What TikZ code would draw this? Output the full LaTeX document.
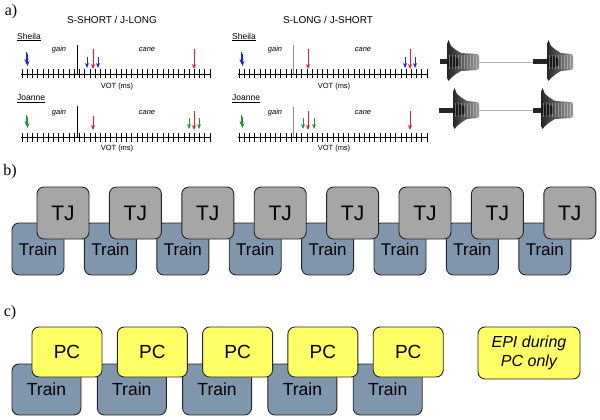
\documentclass[tikz,border=0pt]{standalone}
\usepackage{fontspec}
\setmainfont{Liberation Serif}
\setsansfont{Liberation Sans}
\usetikzlibrary{arrows.meta}
\definecolor{trainc}{RGB}{127,150,173}
\definecolor{tjc}{RGB}{166,166,166}
\definecolor{pcc}{RGB}{255,255,102}
\definecolor{arrblue}{RGB}{30,40,200}
\definecolor{arrred}{RGB}{225,30,40}
\definecolor{arrgreen}{RGB}{40,140,60}
\tikzset{
  plabel/.style={font=\rmfamily\fontsize{16}{16}\selectfont, inner sep=0pt},
  ttl/.style={font=\sffamily\fontsize{10}{12}\selectfont, inner sep=0pt},
  spk/.style={font=\sffamily\fontsize{8.5}{10}\selectfont, inner sep=0pt, anchor=west},
  wrd/.style={font=\sffamily\itshape\fontsize{7.5}{9}\selectfont, inner sep=0pt},
  votl/.style={font=\sffamily\fontsize{7.5}{9}\selectfont, inner sep=0pt},
  axisline/.style={line width=0.6pt, black},
  arr/.style={-{Stealth[length=5pt,width=4pt]}, line width=1pt},
  box/.style={draw=black!85, line width=0.9pt, rounded corners=7pt, inner sep=0pt},
  trainb/.style={box, fill=trainc, minimum width=52pt, minimum height=52pt, font=\sffamily\fontsize{17}{17}\selectfont},
  tjb/.style={box, fill=tjc, minimum width=52pt, minimum height=52pt, font=\sffamily\fontsize{21}{21}\selectfont},
  trainbig/.style={box, fill=trainc, minimum width=69pt, minimum height=51pt, font=\sffamily\fontsize{17.5}{17.5}\selectfont},
  pcb/.style={box, fill=pcc, minimum width=70pt, minimum height=50pt, font=\sffamily\fontsize{19}{19}\selectfont},
}
\newcommand\votaxis[2]{%
  \draw[axisline] ({#1-1},#2) -- ({#1+189},#2);
  \foreach \i in {0,...,36}{\draw[axisline] ({#1+\i*5.22},{#2-4.5}) -- ({#1+\i*5.22},{#2+4.5});}
}
\newcommand\myarr[4]{\draw[arr,#1] (#2,#3) -- (#2,#4);}
\newcommand\wavef[4]{%
  \fill[black!85] (#1,{#4-2.5}) rectangle (#2,{#4+2.5});
  \shade[left color=black!85,right color=black!40]
   (#2,{#4+3}) -- (#2,{#4-18}) -- ({#2+1.5},{#4-22}) -- ({#2+4},{#4-16}) -- ({#2+9},{#4-12})
   -- ({#2+14},{#4-9}) -- ({#3-2},{#4-8}) -- (#3,{#4-6}) -- (#3,{#4+6}) -- ({#3-2},{#4+8})
   -- ({#2+14},{#4+9}) -- ({#2+9},{#4+12}) -- ({#2+4},{#4+16}) -- ({#2+1.5},{#4+19})
   -- (#2,{#4+16}) -- cycle;
  \fill[black!90] (#2,{#4-4}) -- ({#2+6},{#4-6}) -- ({#2+12},{#4-3}) -- ({#2+12},{#4+3}) -- ({#2+6},{#4+6}) -- (#2,{#4+4}) -- cycle;
  \foreach \k in {2,5,...,40}{\pgfmathparse{#2+\k<#3-1?1:0}\ifnum\pgfmathresult=1
    \draw[white, opacity=0.35, line width=0.4pt] ({#2+\k},{#4-7}) -- ({#2+\k},{#4+7});\fi}
}
\begin{document}
\begin{tikzpicture}[x=1pt,y=-1pt]
\useasboundingbox (0,0) rectangle (600,420);

% ---------------- panel a
\node[plabel] (la) at (11,12) {a)};
\node[ttl] (t1) at (112,20) {S-SHORT / J-LONG};
\node[ttl] (t2) at (328,20) {S-LONG / J-SHORT};

% left Sheila
\node[spk] (s1) at (17,37) {\underline{Sheila}};
\votaxis{22}{74}
\draw[black, line width=0.8pt] (77,45) -- (77,74);
\node[wrd] (g1) at (59,50) {gain};
\node[wrd] (c1) at (147,50) {cane};
\node[votl] (v1) at (117,87) {VOT (ms)};
\myarr{arrblue}{26.5}{52}{64}
\myarr{arrblue}{27.5}{54}{66}
\myarr{arrblue}{87}{57}{68}
\myarr{arrred}{93}{49}{69}
\myarr{arrblue}{98}{57}{68}
\myarr{arrred}{194}{49}{69}

% left Joanne
\node[spk] (j1) at (17,99) {\underline{Joanne}};
\votaxis{22}{137}
\draw[black, line width=0.8pt] (77,106) -- (77,137);
\node[wrd] (g2) at (59,113) {gain};
\node[wrd] (c2) at (147,113) {cane};
\node[votl] (v2) at (117,149) {VOT (ms)};
\myarr{arrgreen}{26.5}{115}{126}
\myarr{arrgreen}{27.5}{117}{128}
\myarr{arrred}{93}{116}{130}
\myarr{arrgreen}{189}{118}{129}
\myarr{arrred}{194}{111}{130}
\myarr{arrgreen}{199}{118}{129}

% right Sheila
\node[spk] (s2) at (232,37) {\underline{Sheila}};
\votaxis{239}{74}
\draw[black!45, line width=0.8pt] (293,45) -- (293,74);
\node[wrd] (g3) at (275,50) {gain};
\node[wrd] (c3) at (363,50) {cane};
\node[votl] (v3) at (334,87) {VOT (ms)};
\myarr{arrblue}{241.5}{52}{64}
\myarr{arrblue}{242.5}{54}{66}
\myarr{arrred}{308}{49}{69}
\myarr{arrblue}{405}{57}{68}
\myarr{arrred}{410}{49}{69}
\myarr{arrblue}{415}{57}{68}

% right Joanne
\node[spk] (j2) at (232,99) {\underline{Joanne}};
\votaxis{239}{137}
\draw[black!45, line width=0.8pt] (293,107) -- (293,137);
\node[wrd] (g4) at (275,113) {gain};
\node[wrd] (c4) at (363,113) {cane};
\node[votl] (v4) at (334,149) {VOT (ms)};
\myarr{arrgreen}{241.5}{115}{126}
\myarr{arrgreen}{242.5}{117}{128}
\myarr{arrgreen}{303}{118}{129}
\myarr{arrred}{308}{111}{130}
\myarr{arrgreen}{314}{118}{129}
\myarr{arrred}{410}{111}{130}

% waveforms
\draw[black!30, line width=0.4pt] (479,62) -- (533,62);
\draw[black!30, line width=0.4pt] (479,110) -- (533,110);
\wavef{440}{447}{479}{62}
\wavef{533}{547}{573}{62}
\wavef{439}{453}{479}{110}
\wavef{533}{541}{573}{110}

% ---------------- panel b
\node[plabel] (lb) at (10,172) {b)};
\foreach \i in {0,...,7}{
  \node[trainb] (tr\i) at ({38+72.4*\i},249) {Train};
}
\foreach \i in {0,...,7}{
  \node[tjb] (tj\i) at ({63+72.4*\i},213) {TJ};
}

% ---------------- panel c
\node[plabel] (lc) at (10,313) {c)};
\foreach \i in {0,...,4}{
  \node[trainbig] (tc\i) at ({46.5+85.3*\i},389.5) {Train};
}
\foreach \i in {0,...,4}{
  \node[pcb] (pc\i) at ({67+85.3*\i},352) {PC};
}
\node[box, fill=pcc, minimum width=102pt, minimum height=52pt, align=center,
  font=\sffamily\itshape\fontsize{16}{19}\selectfont] (epi) at (529,353) {EPI during\\PC only};
\end{tikzpicture}
\end{document}
